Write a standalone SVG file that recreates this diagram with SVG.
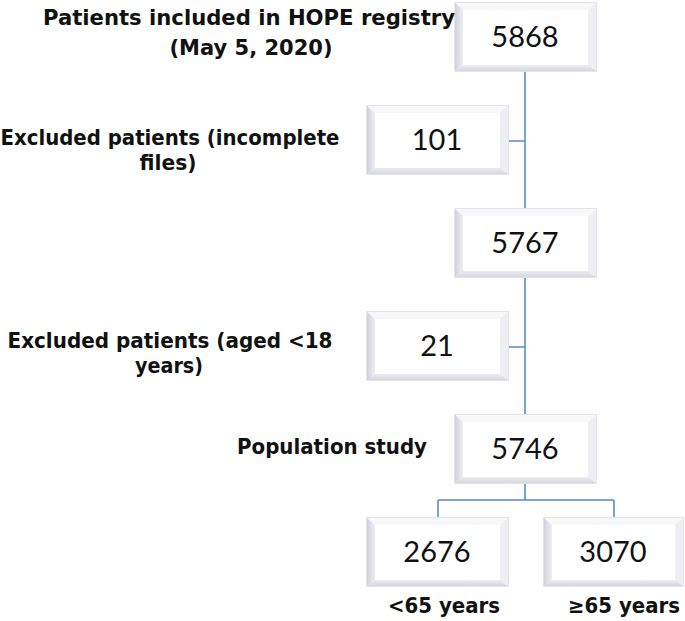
<svg xmlns="http://www.w3.org/2000/svg" width="685" height="621" viewBox="0 0 685 621">
<style>
.lbl{font-family:"DejaVu Sans","Liberation Sans",sans-serif;font-weight:bold;font-size:21px;fill:#111;text-anchor:middle}
.num{font-family:Lato,"Open Sans",sans-serif;font-size:29px;fill:#111;text-anchor:middle}
.con{fill:none;stroke:#5b8bc6;stroke-width:1.6}
</style>
<defs>
<linearGradient id="gl" x1="0" y1="0" x2="1" y2="0">
<stop offset="0" stop-color="#d2d2dc"/><stop offset="1" stop-color="#eeeef3"/>
</linearGradient>
<linearGradient id="gb" x1="0" y1="0" x2="0" y2="1">
<stop offset="0" stop-color="#ececf1"/><stop offset="1" stop-color="#d6d6df"/>
</linearGradient>
<symbol id="box" overflow="visible">
<rect x="0.5" y="0.5" width="142" height="69" fill="#f4f4f7" stroke="#e3e3e9"/>
<polygon points="1,1 142,1 134,8 9,8" fill="#f8f8fa"/>
<polygon points="1,1 9,8 9,63 1,69" fill="url(#gl)"/>
<polygon points="1,69 9,63 134,63 142,69" fill="url(#gb)"/>
<polygon points="142,1 142,69 134,63 134,8" fill="#efeff3"/>
<rect x="9" y="8" width="125" height="55" fill="#ffffff"/>
</symbol>
</defs>
<rect width="685" height="621" fill="#ffffff"/>
<g id="connectors">
<path class="con" d="M525,72 V208 M525,278 V414 M509,141 H525 M509,347 H525 M525,484 V500 M438,500 H614 M438,500 V517 M614,500 V517"/>
</g>
<g id="n1">
<use href="#box" x="454" y="2"/>
<text class="num" x="525" y="47">5868</text>
<text class="lbl" x="249" y="25" textLength="412" lengthAdjust="spacingAndGlyphs">Patients included in HOPE registry</text>
<text class="lbl" x="251" y="55" textLength="163" lengthAdjust="spacingAndGlyphs">(May 5, 2020)</text>
</g>
<g id="n2">
<use href="#box" x="366" y="105"/>
<text class="num" x="437" y="150">101</text>
<text class="lbl" x="170" y="145" textLength="339" lengthAdjust="spacingAndGlyphs">Excluded patients (incomplete</text>
<text class="lbl" x="168" y="170" textLength="57" lengthAdjust="spacingAndGlyphs">files)</text>
</g>
<g id="n3">
<use href="#box" x="454" y="208"/>
<text class="num" x="525" y="253">5767</text>
</g>
<g id="n4">
<use href="#box" x="366" y="311"/>
<text class="num" x="437" y="356">21</text>
<text class="lbl" x="170" y="348" textLength="325" lengthAdjust="spacingAndGlyphs">Excluded patients (aged &lt;18</text>
<text class="lbl" x="169" y="373" textLength="68" lengthAdjust="spacingAndGlyphs">years)</text>
</g>
<g id="n5">
<use href="#box" x="454" y="414"/>
<text class="num" x="525" y="459">5746</text>
<text class="lbl" x="332" y="454" textLength="190" lengthAdjust="spacingAndGlyphs">Population study</text>
</g>
<g id="n6">
<use href="#box" x="366" y="517"/>
<text class="num" x="437" y="562">2676</text>
<text class="lbl" x="444" y="613" textLength="112" lengthAdjust="spacingAndGlyphs">&lt;65 years</text>
</g>
<g id="n7">
<use href="#box" transform="translate(543,517) scale(0.986,1)"/>
<text class="num" x="613" y="562">3070</text>
<text class="lbl" transform="translate(624,613) scale(0.94,1)" x="0" y="0">≥65 years</text>
</g>
</svg>
